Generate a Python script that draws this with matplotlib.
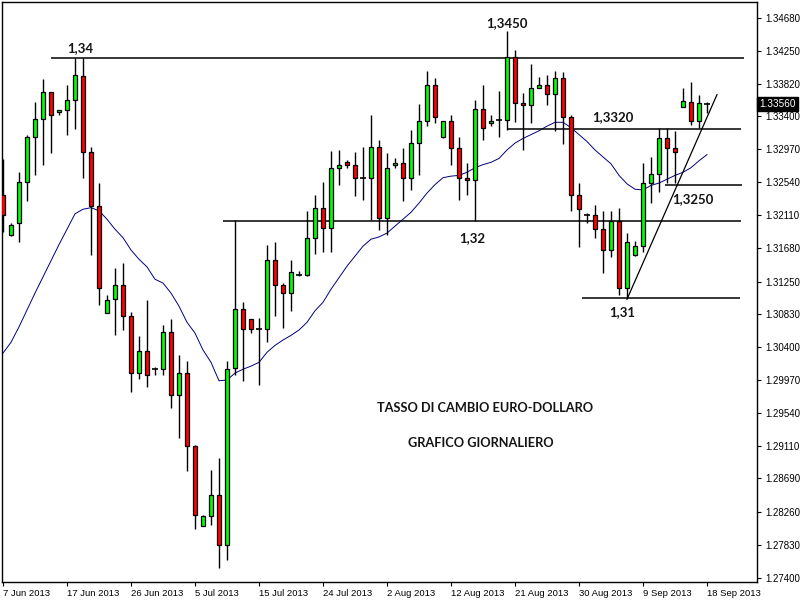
import matplotlib
matplotlib.use("Agg")
import matplotlib.pyplot as plt
import matplotlib.transforms as mtransforms
from matplotlib.patches import Rectangle


# daily EUR/USD bars (MT4 style, Sunday bars included), 7 Jun - 18 Sep 2013
opens = [1.3237, 1.3186, 1.3201, 1.3254, 1.3313, 1.3336, 1.3371, 1.3345, 1.3348, 1.3361,
         1.3392, 1.3294, 1.3223, 1.3084, 1.3102, 1.3121, 1.3080, 1.3006, 1.3035, 1.3011,
         1.3011, 1.3059, 1.2978, 1.3006, 1.2911, 1.2807, 1.2820, 1.2848, 1.2782, 1.3012,
         1.3089, 1.3076, 1.3063, 1.3063, 1.3153, 1.3120, 1.3110, 1.3134, 1.3134, 1.3181,
         1.3221, 1.3195, 1.3273, 1.3281, 1.3277, 1.3260, 1.3260, 1.3300, 1.3207, 1.3276,
         1.3279, 1.3259, 1.3305, 1.3334, 1.3380, 1.3313, 1.3334, 1.3298, 1.3260, 1.3257,
         1.3349, 1.3331, 1.3335, 1.3335, 1.3417, 1.3357, 1.3354, 1.3376, 1.3380, 1.3369,
         1.3389, 1.3339, 1.3237, 1.3211, 1.3211, 1.3193, 1.3166, 1.3204, 1.3116, 1.3160,
         1.3171, 1.3253, 1.3265, 1.3312, 1.3298, 1.3352, 1.3358, 1.3334, 1.3356]
highs = [1.3284, 1.3201, 1.3267, 1.3316, 1.3358, 1.3388, 1.3371, 1.3348, 1.3380, 1.3415,
         1.3415, 1.3300, 1.3253, 1.3107, 1.3143, 1.3149, 1.3085, 1.3054, 1.3101, 1.3014,
         1.3069, 1.3076, 1.3029, 1.3022, 1.2913, 1.2822, 1.2880, 1.2896, 1.3022, 1.3205,
         1.3098, 1.3076, 1.3077, 1.3172, 1.3176, 1.3123, 1.3153, 1.3139, 1.3217, 1.3237,
         1.3254, 1.3295, 1.3296, 1.3283, 1.3293, 1.3300, 1.3342, 1.3309, 1.3292, 1.3285,
         1.3298, 1.3322, 1.3356, 1.3399, 1.3389, 1.3334, 1.3342, 1.3313, 1.3279, 1.3361,
         1.3380, 1.3342, 1.3373, 1.3451, 1.3426, 1.3370, 1.3408, 1.3391, 1.3393, 1.3399,
         1.3397, 1.3342, 1.3253, 1.3214, 1.3225, 1.3217, 1.3217, 1.3221, 1.3188, 1.3178,
         1.3279, 1.3287, 1.3325, 1.3325, 1.3321, 1.3377, 1.3385, 1.3367, 1.3358]
lows = [1.3189, 1.3184, 1.3176, 1.3230, 1.3263, 1.3276, 1.3292, 1.3342, 1.3316, 1.3323,
        1.3260, 1.3159, 1.3095, 1.3084, 1.3056, 1.3062, 1.2982, 1.2998, 1.2988, 1.3004,
        1.3003, 1.2961, 1.2921, 1.2879, 1.2803, 1.2807, 1.2809, 1.2752, 1.2763, 1.3003,
        1.2996, 1.3058, 1.2990, 1.3047, 1.3080, 1.3064, 1.3087, 1.3132, 1.3132, 1.3161,
        1.3163, 1.3163, 1.3250, 1.3273, 1.3236, 1.3231, 1.3205, 1.3192, 1.3186, 1.3273,
        1.3230, 1.3244, 1.3264, 1.3327, 1.3331, 1.3312, 1.3276, 1.3231, 1.3237, 1.3204,
        1.3309, 1.3327, 1.3313, 1.3322, 1.3333, 1.3296, 1.3331, 1.3376, 1.3355, 1.3321,
        1.3304, 1.3217, 1.3170, 1.3201, 1.3181, 1.3136, 1.3157, 1.3108, 1.3104, 1.3158,
        1.3163, 1.3227, 1.3242, 1.3253, 1.3253, 1.3352, 1.3328, 1.3324, 1.3344]
closes = [1.3212, 1.3199, 1.3254, 1.3313, 1.3336, 1.3371, 1.3341, 1.3348, 1.3361, 1.3393,
          1.3294, 1.3223, 1.3117, 1.3101, 1.3121, 1.3080, 1.3006, 1.3035, 1.3004, 1.3011,
          1.3059, 1.2978, 1.3006, 1.2911, 1.2822, 1.2820, 1.2848, 1.2782, 1.3011, 1.3089,
          1.3063, 1.3063, 1.3063, 1.3153, 1.3120, 1.3110, 1.3137, 1.3134, 1.3181, 1.3221,
          1.3195, 1.3273, 1.3276, 1.3277, 1.3260, 1.3260, 1.3300, 1.3207, 1.3273, 1.3279,
          1.3259, 1.3305, 1.3334, 1.3380, 1.3339, 1.3334, 1.3298, 1.3260, 1.3257, 1.3349,
          1.3325, 1.3334, 1.3335, 1.3417, 1.3357, 1.3354, 1.3377, 1.3380, 1.3369, 1.3389,
          1.3339, 1.3237, 1.3219, 1.3211, 1.3193, 1.3166, 1.3204, 1.3116, 1.3176, 1.3171,
          1.3253, 1.3265, 1.3312, 1.3298, 1.3294, 1.3360, 1.3334, 1.3357, 1.3356]
# moving average (blue line)
ma = [1.3032, 1.3046, 1.3066, 1.3088, 1.3110, 1.3131, 1.3152, 1.3173, 1.3193, 1.3213,
      1.3219, 1.3221, 1.3217, 1.3206, 1.3193, 1.3182, 1.3166, 1.3154, 1.3144, 1.3128,
      1.3123, 1.3110, 1.3093, 1.3072, 1.3058, 1.3036, 1.3020, 1.2996, 1.2997, 1.3006,
      1.3011, 1.3015, 1.3020, 1.3033, 1.3042, 1.3049, 1.3055, 1.3062, 1.3072, 1.3087,
      1.3098, 1.3115, 1.3130, 1.3145, 1.3158, 1.3171, 1.3180, 1.3183, 1.3188, 1.3197,
      1.3206, 1.3215, 1.3227, 1.3240, 1.3251, 1.3260, 1.3262, 1.3263, 1.3267, 1.3273,
      1.3277, 1.3280, 1.3285, 1.3296, 1.3305, 1.3311, 1.3316, 1.3321, 1.3327, 1.3332,
      1.3332, 1.3325, 1.3316, 1.3307, 1.3296, 1.3287, 1.3278, 1.3263, 1.3252, 1.3245,
      1.3244, 1.3250, 1.3253, 1.3258, 1.3263, 1.3267, 1.3273, 1.3282, 1.3290]

date_tick_bars = [0, 8, 16, 24, 32, 40, 48, 56, 64, 72, 80, 88]
date_tick_labels = ["7 Jun 2013", "17 Jun 2013", "26 Jun 2013", "5 Jul 2013",
                    "15 Jul 2013", "24 Jul 2013", "2 Aug 2013", "12 Aug 2013",
                    "21 Aug 2013", "30 Aug 2013", "9 Sep 2013", "18 Sep 2013"]
price_ticks = [1.34680, 1.34250, 1.33820, 1.33400, 1.32970, 1.32540, 1.32110, 1.31680,
               1.31250, 1.30830, 1.30400, 1.29970, 1.29540, 1.29110, 1.28690, 1.28260,
               1.27830, 1.27400]

# support / resistance levels: (price, first bar, last bar)
levels = [
    (1.3415, 6.0, 92.6),
    (1.3204, 27.5, 92.25),
    (1.3323, 63.0, 92.25),
    (1.3251, 82.75, 92.4),
    (1.3103, 72.4, 92.1),
]
trend_bars = [78.0, 89.25]
trend_prices = [1.3102, 1.3368]

BULL = "#00ff00"
BEAR = "#ff0000"
TEXT = "#141414"

plt.rcParams["font.family"] = ["Liberation Sans", "DejaVu Sans"]

fig = plt.figure(figsize=(8, 6), dpi=100, facecolor="white")
ax = fig.add_axes([2 / 800, 18 / 600, 755 / 800, 580 / 600])
ax.set_facecolor("white")

for i, (o, h, l, c) in enumerate(zip(opens, highs, lows, closes)):
    ax.vlines(i, l, h, color="black", linewidth=1, zorder=2)
    if c == o:
        ax.hlines(o, i - 0.32, i + 0.32, color="black", linewidth=1.2, zorder=3)
        continue
    col = BULL if c > o else BEAR
    ax.add_patch(Rectangle((i - 0.3, min(o, c)), 0.6, abs(c - o), facecolor=col,
                           edgecolor="black", linewidth=0.9, zorder=3))

ax.plot(range(len(ma)), ma, color="#000080", linewidth=0.7, zorder=1)

for price, x0, x1 in levels:
    ax.hlines(price, x0, x1, color="black", linewidth=1.1, zorder=1)
ax.plot(trend_bars, trend_prices, color="black", linewidth=0.9, zorder=4)

lbl = dict(fontsize=9.5, fontweight="bold", color=TEXT, family="Lato",
           ha="center", va="center")
ax.text(9.6, 1.3429, "1,34", **lbl)
ax.text(63.0, 1.3461, "1,3450", **lbl)
ax.text(58.6, 1.3182, "1,32", **lbl)
ax.text(76.25, 1.3339, "1,3320", **lbl)
ax.text(86.25, 1.3232, "1,3250", **lbl)
ax.text(77.4, 1.3085, "1,31", **lbl)
ttl = dict(lbl, fontsize=9.2)
ax.text(60.25, 1.2961, "TASSO DI CAMBIO EURO-DOLLARO", **ttl)
ax.text(59.75, 1.2915, "GRAFICO GIORNALIERO", **ttl)

ax.set_xlim(-0.125, 94.25)
ax.set_ylim(1.27344, 1.34884)

ax.yaxis.tick_right()
ax.set_yticks(price_ticks)
ax.set_yticklabels([f"{v:.5f}" for v in price_ticks])
ax.tick_params(axis="y", direction="out", length=3, width=0.8, pad=3,
               labelsize=7, colors="black")
ax.set_xticks(date_tick_bars)
ax.set_xticklabels(date_tick_labels)
for t in ax.get_xticklabels():
    t.set_ha("left")
ax.tick_params(axis="x", direction="out", length=3, width=0.8, pad=2,
               labelsize=6.8, colors="black")
for sp in ax.spines.values():
    sp.set_color("black")
    sp.set_linewidth(1)

# last price marker on the price axis
trans = mtransforms.blended_transform_factory(ax.transAxes, ax.transData)
ax.text(1.003, closes[-1], f"{closes[-1]:.5f}", transform=trans, ha="left", va="center",
        fontsize=7.2, color="white", clip_on=False,
        bbox=dict(boxstyle="square,pad=0.2", facecolor="black", edgecolor="black"))

fig.savefig("out.png", dpi=100, facecolor="white")
